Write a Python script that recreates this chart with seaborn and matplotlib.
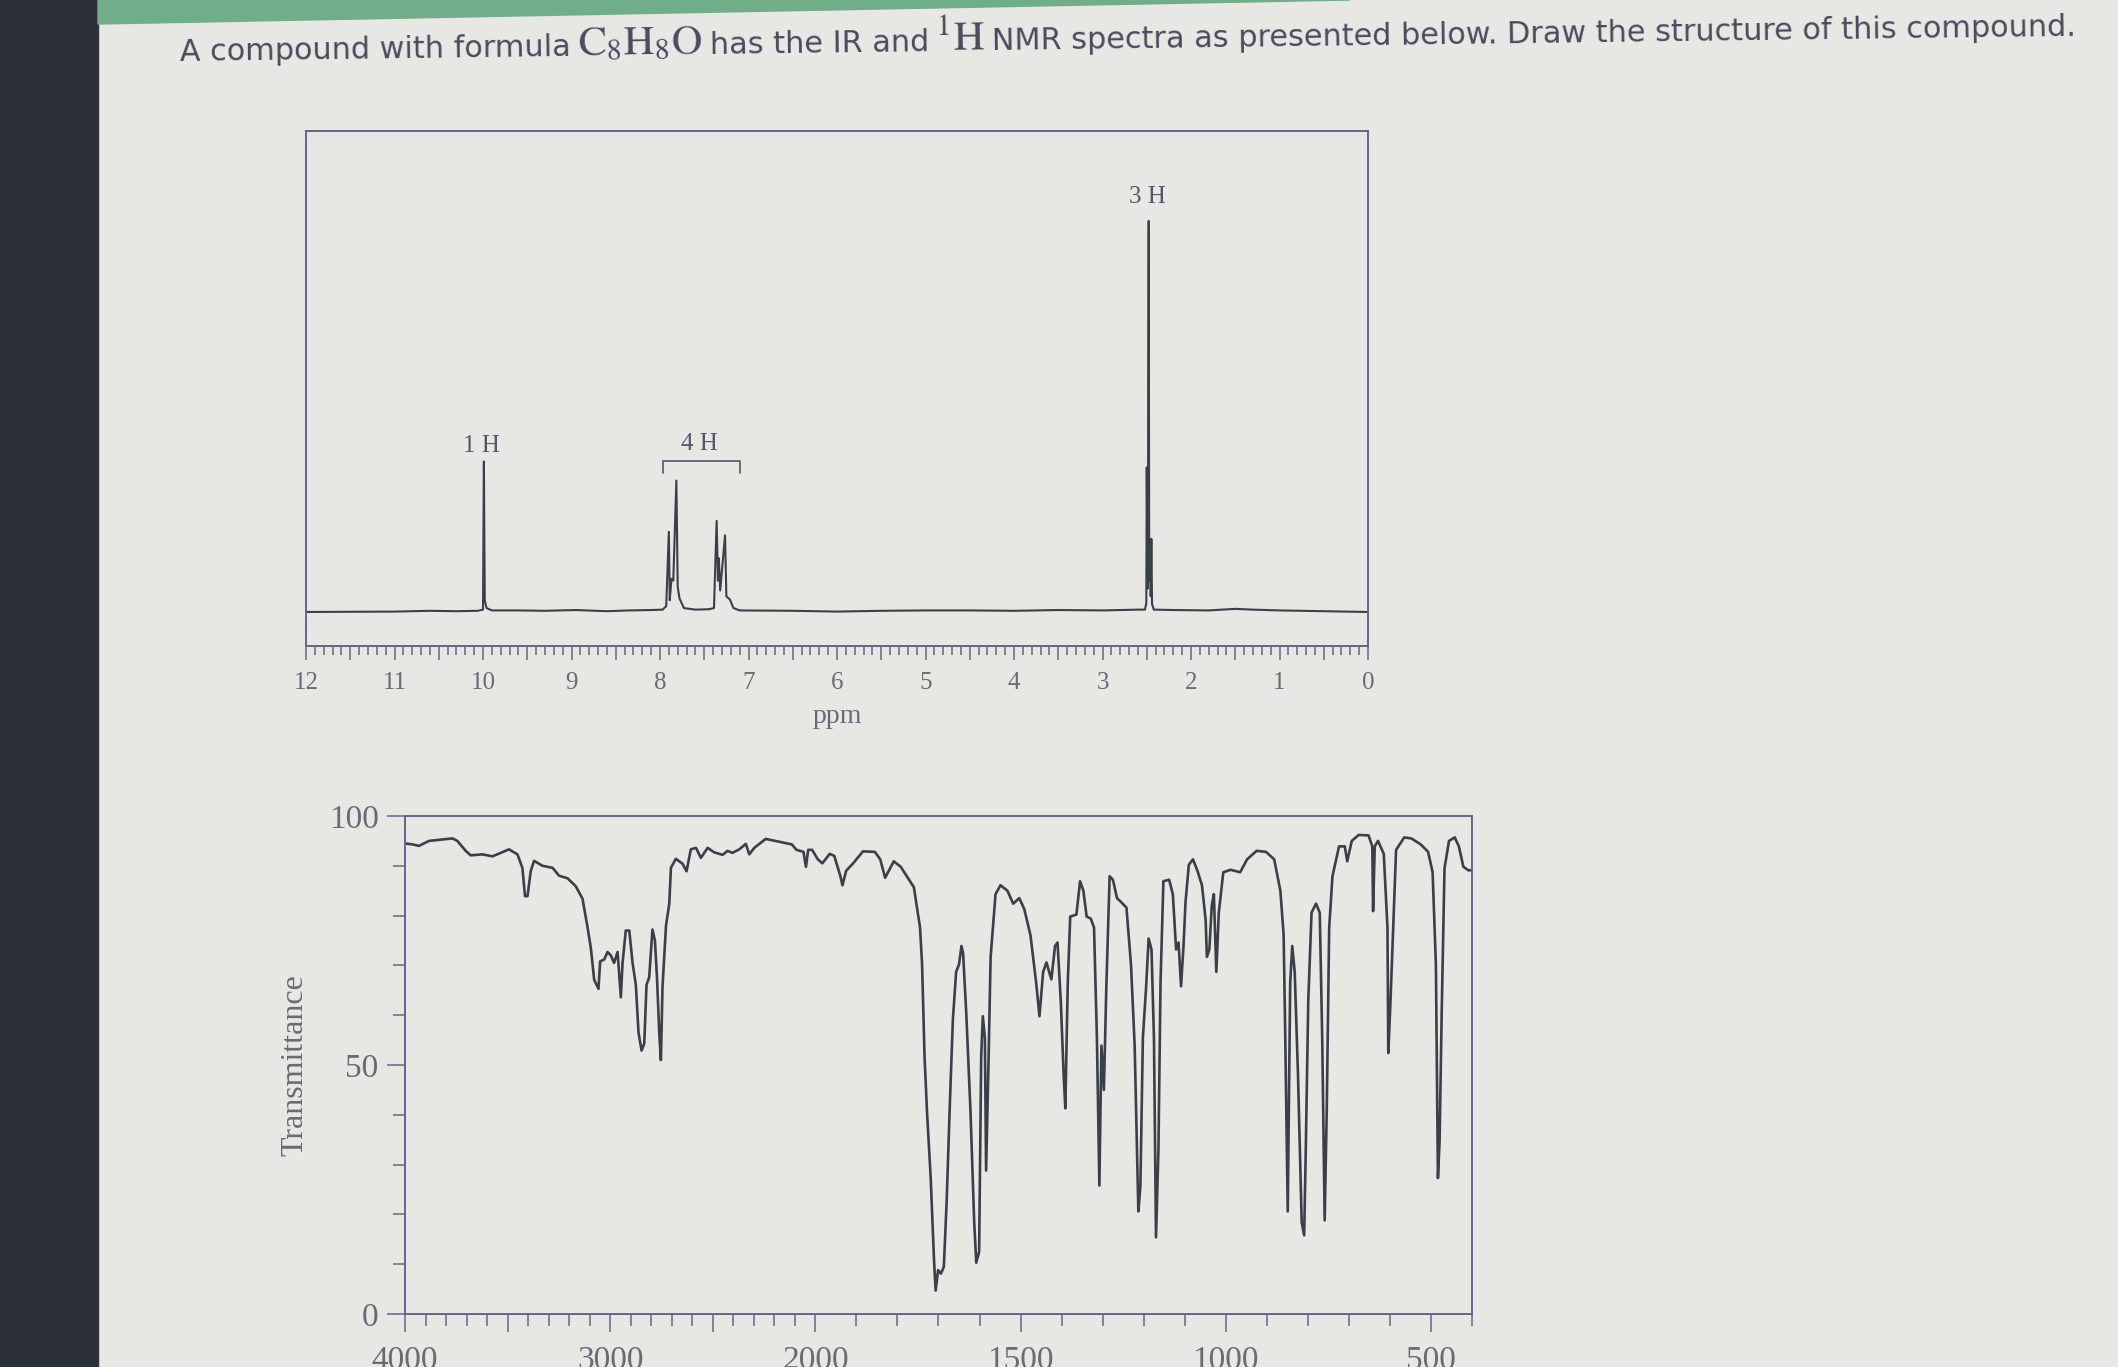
import numpy as np
import matplotlib
matplotlib.use("Agg")
import matplotlib.pyplot as plt
from matplotlib.patches import Rectangle, Polygon
from matplotlib.ticker import MultipleLocator, FixedLocator, FuncFormatter
import seaborn as sns

# ---- 1H NMR trace: chemical shift (ppm) vs relative intensity (tallest line = 100)
nmr_ppm = [12.0, 11.0, 10.6, 10.3, 10.06, 10.0, 9.99, 9.98, 9.96, 9.9, 9.6, 9.3, 8.95, 8.6,
           8.35, 8.1, 7.97, 7.93, 7.90, 7.89, 7.87, 7.85, 7.815, 7.80, 7.78, 7.73, 7.6,
           7.45, 7.39, 7.36, 7.345, 7.335, 7.32, 7.265, 7.25, 7.21, 7.17, 7.1, 6.5, 6.0,
           5.5, 5.0, 4.5, 4.0, 3.5, 3.0, 2.6, 2.52, 2.505, 2.50, 2.49, 2.485, 2.478,
           2.472, 2.465, 2.455, 2.448, 2.44, 2.42, 2.2, 1.8, 1.5, 1.3, 1.0, 0.5, 0.0]
nmr_int = [0.0, 0.1, 0.3, 0.2, 0.3, 0.6, 38.5, 3.0, 1.0, 0.4, 0.4, 0.3, 0.5, 0.2,
           0.4, 0.5, 0.6, 1.5, 20.5, 3.0, 8.5, 8.0, 33.6, 6.5, 3.5, 1.0, 0.6,
           0.7, 1.0, 23.3, 8.0, 13.7, 5.5, 19.6, 4.0, 3.2, 1.0, 0.4, 0.3, 0.1,
           0.3, 0.4, 0.4, 0.3, 0.5, 0.4, 0.6, 0.6, 2.3, 37.0, 6.0, 37.0, 100.0,
           8.0, 18.7, 4.0, 18.7, 2.0, 0.6, 0.5, 0.4, 0.8, 0.6, 0.4, 0.2, 0.0]

# integration labels
nmr_labels = ["1 H", "4 H", "3 H"]
nmr_label_ppm = [10.02, 7.56, 2.49]
nmr_label_int = [42.5, 43.0, 106.0]
bracket_4h = [7.97, 7.10]

# ---- IR trace: wavenumber (cm-1) vs % transmittance
ir_wn = [4000, 3964, 3932, 3883, 3769, 3745, 3704, 3680, 3623, 3574, 3493, 3452, 3428, 3415,
         3403, 3387, 3371, 3330, 3281, 3249, 3208, 3168, 3135, 3111, 3094, 3078, 3057, 3049,
         3029, 3013, 2997, 2981, 2964, 2948, 2940, 2924, 2907, 2891, 2875, 2862, 2847, 2834,
         2823, 2810, 2794, 2782, 2772, 2761, 2753, 2745, 2728, 2712, 2704, 2680, 2647, 2628,
         2607, 2582, 2558, 2525, 2493, 2452, 2428, 2404, 2371, 2339, 2322, 2298, 2242, 2196,
         2115, 2092, 2058, 2046, 2035, 2016, 1994, 1983, 1965, 1954, 1939, 1934, 1925, 1908,
         1884, 1855, 1842, 1830, 1809, 1792, 1775, 1760, 1745, 1740, 1734, 1728, 1719, 1711,
         1707, 1701, 1694, 1687, 1680, 1673, 1665, 1657, 1650, 1644, 1640, 1632, 1622, 1613,
         1608, 1601, 1596, 1592, 1587, 1584, 1578, 1573, 1561, 1549, 1532, 1518, 1503, 1491,
         1476, 1462, 1454, 1445, 1437, 1425, 1416, 1410, 1402, 1395, 1391, 1385, 1379, 1364,
         1355, 1347, 1339, 1329, 1321, 1314, 1308, 1303, 1297, 1291, 1283, 1275, 1265, 1256,
         1242, 1231, 1222, 1213, 1208, 1202, 1194, 1188, 1181, 1175, 1170, 1164, 1159, 1152,
         1138, 1129, 1121, 1115, 1109, 1103, 1098, 1090, 1080, 1069, 1058, 1049, 1046, 1040,
         1034, 1029, 1023, 1017, 1006, 988, 965, 948, 925, 902, 882, 867, 859, 855,
         849, 843, 838, 832, 824, 815, 809, 805, 799, 791, 780, 771, 765, 759,
         754, 748, 740, 724, 710, 704, 693, 676, 652, 643, 641, 637, 629, 615,
         606, 604, 599, 592, 585, 565, 548, 525, 507, 496, 488, 483, 479, 474,
         467, 456, 442, 432, 421, 409, 400]
ir_T = [94.5, 94.3, 94.0, 95.0, 95.5, 95.0, 93.0, 92.1, 92.3, 91.9, 93.3, 92.3, 89.6, 83.9,
        83.9, 89.0, 91.0, 90.0, 89.6, 88.0, 87.5, 85.9, 83.4, 77.8, 73.4, 67.1, 65.3, 70.8,
        71.2, 72.7, 72.0, 70.5, 72.7, 63.6, 70.4, 77.0, 77.0, 70.5, 66.1, 56.5, 52.9, 54.3,
        66.1, 67.6, 77.2, 75.0, 67.6, 56.5, 51.0, 65.7, 78.0, 82.4, 89.6, 91.4, 90.4, 88.9,
        93.3, 93.6, 91.6, 93.6, 92.7, 92.2, 93.0, 92.6, 93.3, 94.4, 92.3, 93.6, 95.4, 95.0,
        94.3, 93.2, 92.8, 89.8, 93.2, 93.2, 91.3, 90.5, 92.4, 92.0, 87.9, 86.1, 89.0, 90.5,
        92.9, 92.8, 91.3, 87.6, 90.9, 89.8, 87.6, 85.7, 77.6, 70.2, 51.7, 40.6, 27.3, 11.0,
        4.7, 8.8, 8.1, 9.5, 22.9, 40.6, 59.1, 68.7, 70.2, 73.9, 72.4, 59.8, 40.6, 18.4,
        10.3, 12.5, 51.7, 59.8, 55.4, 28.8, 51.0, 71.7, 84.3, 86.1, 85.0, 82.4, 83.5, 81.3,
        76.1, 66.5, 59.8, 68.7, 70.6, 67.2, 73.9, 74.6, 62.8, 48.0, 41.3, 66.5, 79.8, 80.2,
        86.9, 85.0, 79.8, 79.4, 77.6, 55.4, 25.8, 53.9, 45.0, 65.8, 87.9, 87.2, 83.5, 82.8,
        81.6, 70.2, 53.9, 20.6, 25.8, 55.4, 65.8, 75.4, 73.2, 55.4, 15.4, 33.2, 66.5, 86.9,
        87.2, 84.3, 73.2, 74.6, 65.8, 73.9, 82.8, 90.2, 91.3, 89.0, 86.1, 79.1, 71.7, 73.2,
        82.1, 84.3, 68.7, 80.6, 88.7, 89.2, 88.7, 91.3, 93.0, 92.8, 91.3, 85.0, 76.1, 55.4,
        20.6, 66.5, 73.9, 68.7, 48.0, 18.4, 15.8, 33.2, 62.8, 80.6, 82.4, 80.6, 55.4, 18.8,
        40.6, 77.6, 87.9, 93.9, 93.9, 90.9, 95.0, 96.2, 96.1, 93.9, 80.9, 93.9, 95.0, 92.4,
        77.6, 52.4, 62.0, 77.6, 93.2, 95.7, 95.5, 94.3, 92.8, 88.7, 70.2, 27.3, 34.7, 59.8,
        89.5, 95.0, 95.7, 93.9, 89.8, 89.1, 89.1]
ir_major = [4000, 3500, 3000, 2500, 2000, 1500, 1000, 500]
ir_tick_labels = [4000, 3000, 2000, 1500, 1000, 500]
T_ticks = [0, 50, 100]

# question text, split where the font changes (True = formula part, serif)
title_parts = [("A compound with formula", False),
               (r"$\mathrm{C_8H_8O}$", True),
               ("has the IR and", False),
               (r"$^{1}\mathrm{H}$", True),
               ("NMR spectra as presented below. Draw the structure of this compound.", False)]

W, H = 2118, 1367
page = "#e7e7e4"
frame_col = "#66648a"
text_col = "#6a6a76"
trace_col = "#3b3f48"

sns.set_theme(style="white")
plt.rcParams["font.family"] = ["Liberation Serif", "DejaVu Serif"]
plt.rcParams["mathtext.fontset"] = "stix"

fig = plt.figure(figsize=(W / 100, H / 100), dpi=100)
fig.patch.set_facecolor(page)

# photo surroundings: dark side bar and green strip at the top
fig.add_artist(Rectangle((0, 0), 98 / W, 1, transform=fig.transFigure,
                         color="#2b3137", zorder=0))
fig.add_artist(Polygon([(98 / W, 1), (98 / W, 1 - 24 / H), (1350 / W, 1)],
                       closed=True, transform=fig.transFigure, color="#6fae88", zorder=0))

# title: pieces laid end to end along a slightly tilted baseline
renderer = fig.canvas.get_renderer()
angle = 0.75
ca, sa = np.cos(np.radians(angle)), np.sin(np.radians(angle))


def lay_title(fs):
    x, y = 180.0, H - 61.0
    arts = []
    for s, is_math in title_parts:
        size = fs * 1.4 if is_math else fs
        t = fig.text(x / W, y / H, s, ha="left", va="baseline", fontsize=size,
                     family="DejaVu Sans", color="#4a4a5c", rotation_mode="anchor")
        w = t.get_window_extent(renderer).width
        t.set_rotation(angle)
        arts.append(t)
        step = w + 0.32 * fs
        x += step * ca
        y += step * sa
    return arts, x - 0.32 * fs * ca - 180.0


arts, total = lay_title(20)
for a in arts:
    a.remove()
arts, total = lay_title(20 * 1894 / total)


def style_frame(ax):
    ax.set_facecolor("none")
    for s in ax.spines.values():
        s.set_visible(True)
        s.set_color(frame_col)
        s.set_linewidth(1.4)


# ---------------- NMR ----------------
ax_nmr = fig.add_axes([306 / W, 1 - 646 / H, 1062 / W, 515 / H])
style_frame(ax_nmr)
sns.lineplot(x=nmr_ppm, y=nmr_int, ax=ax_nmr, color=trace_col, linewidth=1.5,
             estimator=None, sort=False)
ax_nmr.set_xlim(12, 0)
ax_nmr.set_ylim(-8.7, 123)
ax_nmr.set_yticks([])
ax_nmr.xaxis.set_major_locator(MultipleLocator(0.5))
ax_nmr.xaxis.set_minor_locator(MultipleLocator(0.1))
ax_nmr.xaxis.set_major_formatter(FuncFormatter(
    lambda v, p: f"{v:.0f}" if abs(v - round(v)) < 1e-6 else ""))
ax_nmr.tick_params(axis="x", which="major", direction="out", length=10, width=1.1,
                   color=frame_col, labelcolor=text_col, labelsize=18, pad=9, bottom=True)
ax_nmr.tick_params(axis="x", which="minor", direction="out", length=6.5, width=1.1,
                   color=frame_col, bottom=True)
ax_nmr.set_xlabel("ppm", fontsize=20, color=text_col)
ax_nmr.xaxis.label.set_va("baseline")
ax_nmr.xaxis.set_label_coords(0.5, -(723 - 646) / 515)

for lab, px, py in zip(nmr_labels, nmr_label_ppm, nmr_label_int):
    ax_nmr.text(px, py, lab, ha="center", va="center", fontsize=18, color="#55556c")
ax_nmr.plot([bracket_4h[0], bracket_4h[0], bracket_4h[1], bracket_4h[1]],
            [35.5, 38.6, 38.6, 35.5], color="#55556c", linewidth=1.2)


# ---------------- IR ----------------
# usual IR chart: the region below 2000 cm-1 is drawn at twice the scale
def fwd(x):
    x = np.asarray(x, dtype=float)
    return np.where(x > 2000, 2000 + (x - 2000) / 2, x)


def inv(u):
    u = np.asarray(u, dtype=float)
    return np.where(u > 2000, 2000 + 2 * (u - 2000), u)


ax_ir = fig.add_axes([405 / W, 1 - 1314 / H, 1067 / W, 498 / H])
style_frame(ax_ir)
ax_ir.set_xscale("function", functions=(fwd, inv))
sns.lineplot(x=ir_wn, y=ir_T, ax=ax_ir, color=trace_col, linewidth=1.9,
             estimator=None, sort=False)
ax_ir.set_xlim(4000, 400)
ax_ir.set_ylim(0, 100)
ax_ir.xaxis.set_major_locator(FixedLocator(ir_major))
ax_ir.xaxis.set_minor_locator(FixedLocator(list(range(400, 4001, 100))))
ax_ir.xaxis.set_major_formatter(FuncFormatter(
    lambda v, p: f"{v:.0f}" if round(v) in ir_tick_labels else ""))
ax_ir.yaxis.set_major_locator(FixedLocator(T_ticks))
ax_ir.yaxis.set_minor_locator(MultipleLocator(10))
ax_ir.tick_params(which="major", direction="out", length=13, width=1.1, color=frame_col,
                  labelcolor=text_col, labelsize=24, bottom=True, left=True)
ax_ir.tick_params(which="minor", direction="out", length=8.6, width=1.1, color=frame_col,
                  bottom=True, left=True)
ax_ir.tick_params(axis="x", which="major", pad=10)
ax_ir.tick_params(axis="y", which="major", pad=6)
ax_ir.set_xlabel("")
ax_ir.set_ylabel("Transmittance", fontsize=23, color=text_col)
ax_ir.yaxis.label.set_va("center")
ax_ir.yaxis.set_label_coords(-(405 - 295) / 1067, 0.5)

fig.savefig("out.png", dpi=100, facecolor=fig.get_facecolor())
